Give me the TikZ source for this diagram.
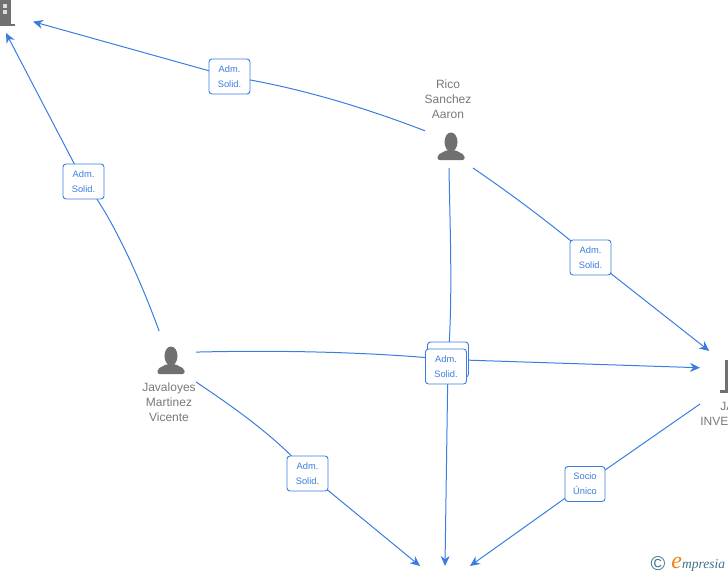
\documentclass[tikz,border=0pt]{standalone}
\usepackage{fontspec}
\setmainfont{Liberation Sans}
\newfontfamily\markfont{Liberation Serif}
\usepackage{xcolor}
\usetikzlibrary{shapes,arrows.meta,positioning}
\definecolor{linkBlue}{RGB}{58, 125, 224}
\definecolor{iconGrey}{RGB}{112, 112, 112}
\definecolor{nameGrey}{RGB}{120, 120, 120}
\definecolor{markTeal}{RGB}{60, 115, 140}
\definecolor{markOrange}{RGB}{240, 130, 20}
\tikzset{
  personicon/.pic={
    \fill [iconGrey] (0,-4) ellipse (6.5 and 9.5);
    \fill [iconGrey, rounded corners=2pt] (-13.5,14) -- (-13.5,9) -- (-4,4) -- (4,4) -- (13.5,9) -- (13.5,14) -- cycle;
  }
}

\begin{document}
\begin{tikzpicture}[x=1pt, y=-1pt, >={Stealth[length=10pt,width=9pt]}, thick]
    \tikzstyle{hub} = [rectangle, inner sep=0pt, outer sep=0pt]
    \tikzstyle{line} = [draw, ->, line width=1pt, linkBlue]
    \tikzstyle{tag} = [rectangle, draw=linkBlue, fill=white, line width=0.9pt, rounded corners=3pt, minimum width=41pt, minimum height=35pt, inner sep=0pt, align=center, text=linkBlue, execute at begin node=\rule{0pt}{9.5pt}, font=\fontsize{9.3}{15}\selectfont]
    \tikzstyle{nametext} = [inner sep=0pt, align=center, text=nameGrey, font=\fontsize{12}{15}\selectfont]

    \useasboundingbox (0,0) rectangle (728,575);
    \clip (0,0) rectangle (728,575);

    % people and companies
    \node [hub, minimum width=48pt, minimum height=42pt] (rico) at (449,147) {};
    \node [hub, minimum width=50pt, minimum height=51pt] (javaloyes) at (171,356.5) {};
    \node [hub, minimum width=50pt, minimum height=46pt] (topfirm) at (8,10) {};
    \node [hub, minimum width=60pt, minimum height=53pt] (jafirm) at (730,377.5) {};
    \node [hub, minimum width=50pt, minimum height=48pt] (lowfirm) at (445,590) {};

    \pic at (451,146) {personicon};
    \pic at (171,360) {personicon};
    \node [nametext] (riconame) at (448,99) {Rico\\Sanchez\\Aaron};
    \node [nametext] (javaname) at (169,402) {Javaloyes\\Martinez\\Vicente};
    \node [nametext, anchor=west] (janame) at (700,414) {\hspace{18pt}JA\\INVES};

    % top building
    \fill [iconGrey] (0,-1) rectangle (11,24);
    \fill [iconGrey] (0,24) rectangle (15,26.5);
    \fill [white!75!iconGrey] (2.7,4) rectangle (7.3,8);
    \fill [white!75!iconGrey] (2.7,10.5) rectangle (7.3,14.5);
    % right building
    \fill [iconGrey] (725,360) rectangle (729,393);
    \fill [iconGrey] (720,390) rectangle (729,393);

    \coordinate (tagA) at (229.5,76.5);
    \coordinate (tagB) at (83.5,181.5);
    \coordinate (tagC) at (590.5,257.5);
    \coordinate (tagD) at (448,359.5);
    \coordinate (tagE) at (446,366.5);
    \coordinate (tagF) at (307.5,473.5);
    \coordinate (tagG) at (585,484);

    \path [line] (rico.146) .. controls (350,102) and (285,85) .. (tagA) -- (topfirm.-25.6);
    \path [line] (javaloyes.115) .. controls (135,265) and (105,205) .. (tagB) -- (topfirm.265);
    \path [line] (rico.south east) .. controls (520,200) and (565,235) .. (tagC) -- (jafirm.128);
    \path [line] (rico.south) .. controls (450,230) and (453,300) .. (tagD) -- (lowfirm.north);
    \path [line] (javaloyes.10) .. controls (280,350) and (370,352) .. (tagD) -- (jafirm.162.4);
    \path [line] (javaloyes.south east) .. controls (235,408) and (280,440) .. (tagF) -- (lowfirm.north west);
    \path [line] (jafirm.south west) -- (tagG) -- (lowfirm.north east);

    \node [tag] (admA) at (tagA) {Adm.\\Solid.};
    \node [tag] (admB) at (tagB) {Adm.\\Solid.};
    \node [tag] (admC) at (tagC) {Adm.\\Solid.};
    \node [tag] (admD) at (tagD) {};
    \node [tag] (admE) at (tagE) {Adm.\\Solid.};
    \node [tag] (admF) at (tagF) {Adm.\\Solid.};
    \node [tag, minimum width=40pt] (socio) at (tagG) {Socio\\Único};

    % corner mark
    \node [inner sep=0pt, text=markTeal, font=\fontsize{20}{20}\selectfont] (copymark) at (658,564) {©};
    \node [inner sep=0pt, anchor=west, text=markTeal, font=\markfont\itshape\fontsize{13.5}{13.5}\selectfont] (brandmark) at (671,564) {\textcolor{markOrange}{\fontsize{24}{24}\selectfont e}mpresia};
\end{tikzpicture}
\end{document}
